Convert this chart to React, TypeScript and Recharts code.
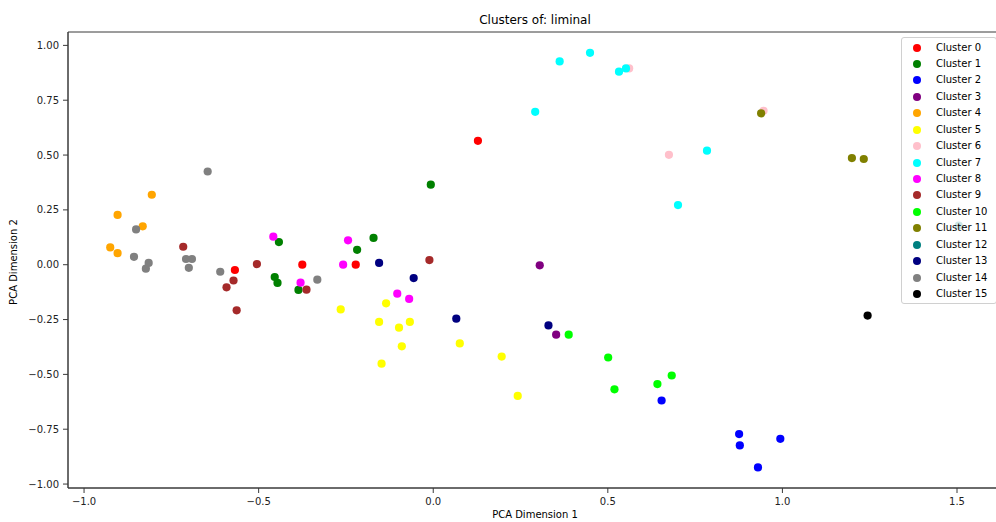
import React from 'react';
import { ScatterChart, Scatter, XAxis, YAxis, ReferenceArea } from 'recharts';

const clusterNames = [
  'Cluster 0', 'Cluster 1', 'Cluster 2', 'Cluster 3', 'Cluster 4', 'Cluster 5', 'Cluster 6', 'Cluster 7',
  'Cluster 8', 'Cluster 9', 'Cluster 10', 'Cluster 11', 'Cluster 12', 'Cluster 13', 'Cluster 14', 'Cluster 15',
];
const clusterColors = [
  '#ff0000', '#008000', '#0000ff', '#800080', '#ffa500', '#ffff00', '#ffc0cb', '#00ffff',
  '#ff00ff', '#a52a2a', '#00ff00', '#808000', '#008080', '#000080', '#808080', '#000000',
];

const cluster0 = [{ x: 0.128, y: 0.565 }, { x: -0.568, y: -0.024 }, { x: -0.375, y: 0.0 }, { x: -0.222, y: 0.0 }];
const cluster1 = [
  { x: -0.007, y: 0.365 }, { x: -0.442, y: 0.103 }, { x: -0.454, y: -0.056 }, { x: -0.446, y: -0.083 },
  { x: -0.386, y: -0.115 }, { x: -0.218, y: 0.068 }, { x: -0.171, y: 0.122 },
];
const cluster2 = [
  { x: 0.654, y: -0.619 }, { x: 0.876, y: -0.772 }, { x: 0.878, y: -0.824 }, { x: 0.994, y: -0.794 }, { x: 0.93, y: -0.924 },
];
const cluster3 = [{ x: 0.305, y: -0.003 }, { x: 0.352, y: -0.319 }];
const cluster4 = [
  { x: -0.806, y: 0.319 }, { x: -0.904, y: 0.227 }, { x: -0.832, y: 0.175 }, { x: -0.925, y: 0.079 }, { x: -0.904, y: 0.053 },
];
const cluster5 = [
  { x: -0.265, y: -0.204 }, { x: -0.135, y: -0.176 }, { x: -0.155, y: -0.261 }, { x: -0.098, y: -0.287 },
  { x: -0.067, y: -0.261 }, { x: -0.09, y: -0.372 }, { x: -0.148, y: -0.451 }, { x: 0.076, y: -0.359 },
  { x: 0.196, y: -0.419 }, { x: 0.242, y: -0.598 },
];
const cluster6 = [{ x: 0.561, y: 0.895 }, { x: 0.946, y: 0.702 }, { x: 0.675, y: 0.501 }];
const cluster7 = [
  { x: 0.362, y: 0.927 }, { x: 0.449, y: 0.966 }, { x: 0.532, y: 0.88 }, { x: 0.552, y: 0.895 },
  { x: 0.292, y: 0.697 }, { x: 0.784, y: 0.52 }, { x: 0.701, y: 0.272 },
];
const cluster8 = [
  { x: -0.458, y: 0.128 }, { x: -0.38, y: -0.082 }, { x: -0.244, y: 0.111 }, { x: -0.258, y: 0.0 },
  { x: -0.103, y: -0.132 }, { x: -0.069, y: -0.156 },
];
const cluster9 = [
  { x: -0.716, y: 0.082 }, { x: -0.572, y: -0.072 }, { x: -0.592, y: -0.103 }, { x: -0.563, y: -0.208 },
  { x: -0.505, y: 0.003 }, { x: -0.363, y: -0.114 }, { x: -0.011, y: 0.021 },
];
const cluster10 = [
  { x: 0.388, y: -0.319 }, { x: 0.501, y: -0.423 }, { x: 0.519, y: -0.568 }, { x: 0.642, y: -0.544 }, { x: 0.683, y: -0.505 },
];
const cluster11 = [{ x: 0.939, y: 0.69 }, { x: 1.199, y: 0.486 }, { x: 1.233, y: 0.482 }];
const cluster12 = [{ x: 1.505, y: 0.178 }];
const cluster13 = [{ x: -0.155, y: 0.008 }, { x: -0.056, y: -0.061 }, { x: 0.066, y: -0.246 }, { x: 0.33, y: -0.277 }];
const cluster14 = [
  { x: -0.646, y: 0.425 }, { x: -0.851, y: 0.161 }, { x: -0.857, y: 0.036 }, { x: -0.815, y: 0.008 },
  { x: -0.823, y: -0.018 }, { x: -0.708, y: 0.026 }, { x: -0.691, y: 0.026 }, { x: -0.7, y: -0.014 },
  { x: -0.61, y: -0.032 }, { x: -0.332, y: -0.068 },
];
const cluster15 = [{ x: 1.244, y: -0.232 }];

const clusterData = [
  cluster0, cluster1, cluster2, cluster3, cluster4, cluster5, cluster6, cluster7,
  cluster8, cluster9, cluster10, cluster11, cluster12, cluster13, cluster14, cluster15,
];

const xTicks = [-1, -0.5, 0, 0.5, 1, 1.5];
const yTicks = [-1, -0.75, -0.5, -0.25, 0, 0.25, 0.5, 0.75, 1];
const X_DOMAIN: [number, number] = [-1.046, 1.626];
const Y_DOMAIN: [number, number] = [-1.018, 1.061];

const FONT = '"DejaVu Sans", sans-serif';
const AXIS_COLOR = '#3a3a3a';

const fmt = (digits: number) => (v: number) => {
  const s = Math.abs(v).toFixed(digits);
  return v < 0 ? '\u2212' + s : s;
};

const makeDot = (color: string) => (props: any) => (
  <circle cx={props.cx} cy={props.cy} r={4.1} fill={color} />
);

export default function App() {
  return (
    <div
      style={{
        position: 'absolute',
        left: 0,
        top: 0,
        width: 996,
        height: 522,
        overflow: 'hidden',
        background: '#fff',
        fontFamily: FONT,
      }}
    >
      <div
        style={{
          position: 'absolute',
          left: 0,
          top: 12,
          width: 1070,
          textAlign: 'center',
          fontSize: 12,
          lineHeight: '16px',
          color: '#000',
        }}
      >
        Clusters of: liminal
      </div>
      <ScatterChart width={1010} height={522} margin={{ top: 32, right: 9, bottom: 0, left: 0 }}>
        <XAxis
          type="number"
          dataKey="x"
          domain={X_DOMAIN}
          ticks={xTicks}
          allowDataOverflow
          height={34}
          tickSize={5}
          tickMargin={5}
          tickFormatter={fmt(1)}
          tick={{ fontSize: 10, fill: '#222', fontFamily: FONT }}
          axisLine={{ stroke: AXIS_COLOR }}
          tickLine={{ stroke: AXIS_COLOR }}
          interval={0}
        />
        <YAxis
          type="number"
          dataKey="y"
          domain={Y_DOMAIN}
          ticks={yTicks}
          allowDataOverflow
          width={68}
          tickSize={5}
          tickMargin={4}
          tickFormatter={fmt(2)}
          tick={{ fontSize: 10, fill: '#222', fontFamily: FONT }}
          axisLine={{ stroke: AXIS_COLOR }}
          tickLine={{ stroke: AXIS_COLOR }}
          interval={0}
        />
        <ReferenceArea
          x1={X_DOMAIN[0]}
          x2={X_DOMAIN[1]}
          y1={Y_DOMAIN[0]}
          y2={Y_DOMAIN[1]}
          fill="none"
          fillOpacity={0}
          stroke={AXIS_COLOR}
          strokeWidth={1}
          ifOverflow="visible"
        />
        {clusterData.map((d, i) => (
          <Scatter
            key={clusterNames[i]}
            name={clusterNames[i]}
            data={d}
            fill={clusterColors[i]}
            shape={makeDot(clusterColors[i])}
            isAnimationActive={false}
          />
        ))}
      </ScatterChart>
      <div
        style={{
          position: 'absolute',
          left: 0,
          top: 509,
          width: 1070,
          textAlign: 'center',
          fontSize: 10,
          lineHeight: '12px',
          color: '#000',
        }}
      >
        PCA Dimension 1
      </div>
      <div
        style={{
          position: 'absolute',
          left: 14 - 100,
          top: 262 - 6,
          width: 200,
          height: 12,
          textAlign: 'center',
          fontSize: 10,
          lineHeight: '12px',
          color: '#000',
          transform: 'rotate(-90deg)',
        }}
      >
        PCA Dimension 2
      </div>
      <div
        style={{
          position: 'absolute',
          left: 901,
          top: 37,
          width: 96,
          height: 267,
          boxSizing: 'border-box',
          border: '1px solid #d0d0d0',
          borderRadius: 3,
          background: 'rgba(255,255,255,0.8)',
        }}
      >
        {clusterNames.map((n, i) => (
          <div
            key={n}
            style={{
              position: 'absolute',
              left: 0,
              top: 1.5 + i * 16.44,
              height: 16,
              width: 94,
            }}
          >
            <div
              style={{
                position: 'absolute',
                left: 11,
                top: 4,
                width: 8,
                height: 8,
                borderRadius: 4,
                background: clusterColors[i],
              }}
            />
            <div
              style={{
                position: 'absolute',
                left: 34,
                top: 0,
                fontSize: 10,
                lineHeight: '16px',
                color: '#000',
                whiteSpace: 'nowrap',
              }}
            >
              {n}
            </div>
          </div>
        ))}
      </div>
    </div>
  );
}
